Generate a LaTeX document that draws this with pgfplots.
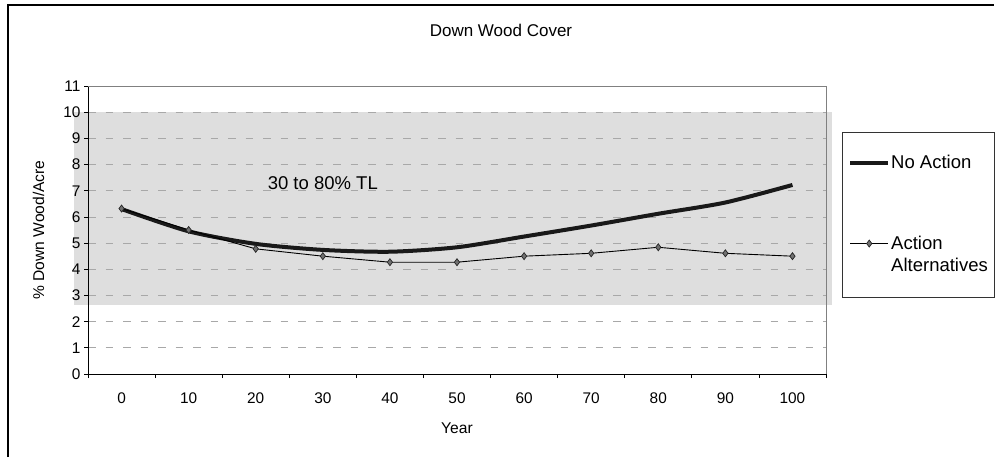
\documentclass[border=0pt]{standalone}
\usepackage{pgfplots}
\pgfplotsset{compat=1.18}
\usepackage{fontspec}
\setmainfont{Liberation Sans}
\definecolor{band}{HTML}{DEDEDE}
\definecolor{gridc}{HTML}{A8A8A8}
\definecolor{mk}{HTML}{707070}
\pgfplotsset{
  legline/.style={legend image code/.code={\draw[##1] (0pt,0pt) -- (38pt,0pt);}},
  legmark/.style={legend image code/.code={\draw[mark repeat=2,mark phase=2,##1,yshift=11pt] plot coordinates {(0pt,0pt) (19pt,0pt) (38pt,0pt)};}},
}
\begin{document}
\begin{tikzpicture}
\path (0,0) rectangle (995pt,457pt);
% chart frame (only top and left edges show)
\draw[line width=1.2pt] (8pt,0pt) -- (8pt,452pt) -- (994.4pt,452pt);
\node[font=\fontsize{17}{20}\selectfont] at (501pt,427pt) {Down Wood Cover};
\begin{axis}[
    set layers,
    at={(88pt,83pt)}, anchor=south west,
    scale only axis,
    width=738pt, height=288pt,
    xmin=-0.5, xmax=10.5,
    ymin=0, ymax=11,
    clip=false,
    axis x line*=bottom,
    axis y line*=left,
    axis line style={line width=0.8pt, black},
    tick align=outside,
    major tick length=4pt,
    tick style={black, line width=0.8pt},
    xtick={-0.5,0.5,...,10.5},
    xticklabels={0,10,20,30,40,50,60,70,80,90,100,{}},
    xticklabel style={xshift=33.55pt, yshift=-11pt},
    ytick={0,1,...,11},
    ymajorgrids,
    grid style={gridc, line width=0.8pt, dash pattern=on 7.5pt off 10pt},
    tick label style={font=\fontsize{15.4}{18}\selectfont},
    /pgf/number format/assume math mode=true,
    xlabel={Year},
    xlabel style={at={(axis description cs:0.5,0)}, anchor=center, yshift=-54pt, font=\fontsize{15.6}{18}\selectfont},
    ylabel={\% Down Wood/Acre},
    ylabel style={at={(axis description cs:-0.067,0.5)}, anchor=center, font=\fontsize{15.6}{18}\selectfont},
    legend style={
      at={(1.0217,0.823)}, anchor=north west,
      draw=none, fill=none,
      font=\fontsize{18.5}{22}\selectfont,
      inner xsep=6pt, inner ysep=16pt,
      row sep=62pt,
      cells={align=left, anchor=west},
      nodes={inner xsep=1pt},
    },
    legend cell align=left,
  ]
  % shaded 30 to 80% TL band
  \begin{pgfonlayer}{axis background}
    \fill[band] (axis cs:-0.709,2.63) rectangle (axis cs:10.589,10);
  \end{pgfonlayer}
  \draw[gray, line width=0.8pt] (rel axis cs:0,1) -- (rel axis cs:1,1) -- (rel axis cs:1,0);

  \addplot[black!90, line width=4pt, smooth, tension=0.45, no markers, legline]
    coordinates {
      (0,6.30) (1,5.45) (2,4.97) (3,4.74) (4,4.67) (5,4.84)
      (6,5.25) (7,5.67) (8,6.12) (9,6.55) (10,7.22)
    };
  \addlegendentry{No Action}

  \addplot[black, line width=0.9pt, mark=diamond*, mark size=3.5pt,
    mark options={fill=mk, draw=black!85, line width=0.7pt}, legmark]
    coordinates {
      (0,6.32) (1,5.50) (2,4.78) (3,4.50) (4,4.27) (5,4.27)
      (6,4.50) (7,4.61) (8,4.84) (9,4.61) (10,4.50)
    };
  \addlegendentry{Action\\Alternatives}

  \node[font=\fontsize{18.5}{22}\selectfont] at (axis cs:3,7.3) {30 to 80\% TL};
\end{axis}
% legend frame
\draw[black!80, line width=0.8pt] (842pt,325pt) rectangle (994pt,160pt);
\end{tikzpicture}
\end{document}
